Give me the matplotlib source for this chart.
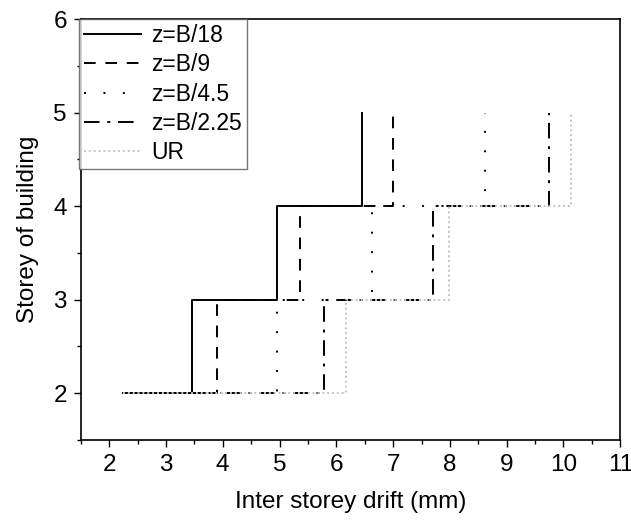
import matplotlib
matplotlib.use("Agg")
import matplotlib.pyplot as plt
from matplotlib.ticker import MultipleLocator

storeys = [2, 3, 4, 5]
z_b18 = [2.25, 3.46, 4.95, 6.45]
z_b9 = [2.25, 3.90, 5.36, 6.99]
z_b45 = [2.25, 4.95, 6.62, 8.61]
z_b225 = [2.25, 5.78, 7.71, 9.74]
ur = [2.25, 6.17, 7.99, 10.14]
labels = ["z=B/18", "z=B/9", "z=B/4.5", "z=B/2.25", "UR"]
x_ticks = [2, 3, 4, 5, 6, 7, 8, 9, 10, 11]
y_ticks = [2, 3, 4, 5, 6]

plt.rcParams['font.family'] = ['Liberation Sans', 'DejaVu Sans']

fig = plt.figure(figsize=(6.31, 5.2), dpi=100)
ax = fig.add_axes([0.128, 0.154, 0.855, 0.809])

lw = 1.4
ax.plot(z_b18, storeys, drawstyle='steps-post', color='black', lw=lw, linestyle='-', label=labels[0])
ax.plot(z_b9, storeys, drawstyle='steps-post', color='black', lw=lw, linestyle=(0, (6, 5)), label=labels[1])
ax.plot(z_b45, storeys, drawstyle='steps-post', color='black', lw=lw, linestyle=(0, (1, 9)), label=labels[2])
ax.plot(z_b225, storeys, drawstyle='steps-post', color='black', lw=lw, linestyle=(0, (8, 4, 1.5, 4)), label=labels[3])
ax.plot(ur, storeys, drawstyle='steps-post', color='#c4c4c4', lw=lw, linestyle=(0, (1, 1.5)), label=labels[4])

ax.set_xlim(1.5, 11)
ax.set_ylim(1.5, 6)
ax.set_xticks(x_ticks)
ax.set_yticks(y_ticks)
ax.xaxis.set_minor_locator(MultipleLocator(0.5))
ax.yaxis.set_minor_locator(MultipleLocator(0.5))
ax.tick_params(which='major', direction='out', length=5, width=1, labelsize=17.5, pad=5,
               top=False, right=False)
ax.tick_params(which='minor', direction='out', length=3, width=1, top=False, right=False)
for s in ax.spines.values():
    s.set_linewidth(1.2)

ax.set_xlabel("Inter storey drift (mm)", fontsize=17.5, labelpad=11)
ax.set_ylabel("Storey of building", fontsize=17.5, labelpad=10)

leg = ax.legend(loc='upper left', bbox_to_anchor=(-0.003, 1.0), borderaxespad=0,
                fontsize=16.5, frameon=True, fancybox=False, handlelength=2.5,
                handletextpad=0.45, labelspacing=0.28, borderpad=0.2)
leg.get_frame().set_edgecolor('#555555')
leg.get_frame().set_linewidth(1.0)

fig.savefig("out.png", dpi=100)
